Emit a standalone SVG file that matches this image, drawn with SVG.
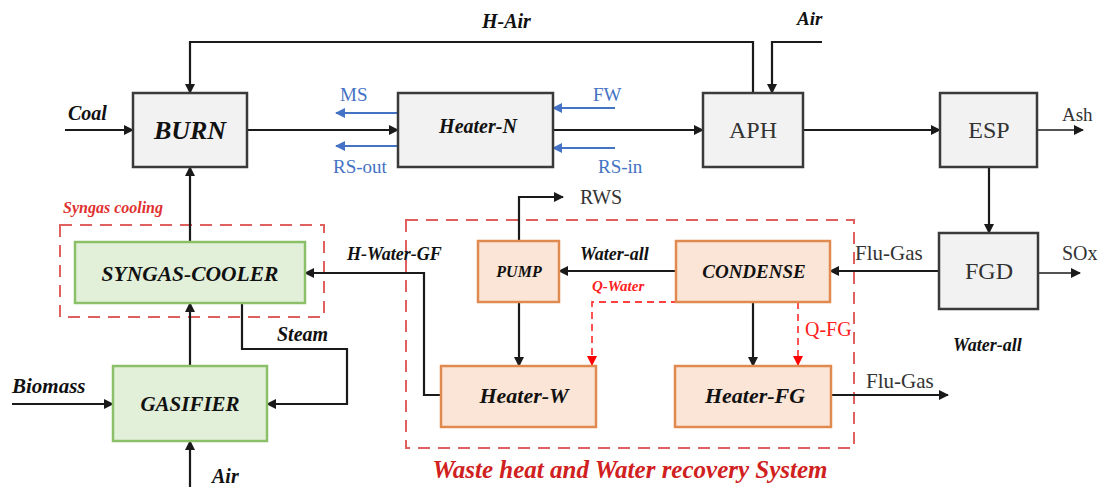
<svg xmlns="http://www.w3.org/2000/svg" width="1104" height="487" viewBox="0 0 1104 487">
<defs>
<marker id="ah" markerWidth="10" markerHeight="10" refX="9" refY="5" orient="auto" markerUnits="userSpaceOnUse"><path d="M0,0 L10,5 L0,10 Z" fill="#1a1a1a"/></marker>
<marker id="ahb" markerWidth="10" markerHeight="10" refX="9" refY="5" orient="auto" markerUnits="userSpaceOnUse"><path d="M0,0 L10,5 L0,10 Z" fill="#4472c4"/></marker>
<marker id="ahr" markerWidth="10" markerHeight="10" refX="9" refY="5" orient="auto" markerUnits="userSpaceOnUse"><path d="M0,0 L10,5 L0,10 Z" fill="#ff0000"/></marker>
</defs>
<style>
.grey{fill:#f2f2f2;stroke:#3a3a3a;stroke-width:2.5}
.green{fill:#e2f0d9;stroke:#8cc068;stroke-width:2.5}
.orange{fill:#fbe5d6;stroke:#e08a50;stroke-width:2.5}
.ln{fill:none;stroke:#1a1a1a;stroke-width:2.2}
.arr{marker-end:url(#ah)}
.bl{fill:none;stroke:#4472c4;stroke-width:2.2;marker-end:url(#ahb)}
.rd{fill:none;stroke:#ff4040;stroke-width:1.8;stroke-dasharray:7,5}
.box{fill:none;stroke:#e06060;stroke-width:2;stroke-dasharray:12,8}
text{font-family:'Liberation Serif','Times New Roman',serif}
.bi{font-weight:bold;font-style:italic;fill:#111}
.rg{fill:#333}
.blt{fill:#4472c4;font-size:19px}
.red{font-weight:bold;font-style:italic;fill:#d02020}
</style>
<g id="groups">
<rect x="60" y="225" width="264" height="92" class="box"/>
<text x="63" y="213" class="red" font-size="16" style="fill:#e03030">Syngas cooling</text>
<rect x="406" y="220" width="448" height="228" class="box"/>
<text x="630" y="478" class="red" font-size="25" text-anchor="middle">Waste heat and Water recovery System</text>
</g>
<g id="connectors">
<path d="M753,93 V42 H190 V93" class="ln arr"/>
<path d="M822,42 H772 V93" class="ln arr"/>
<path d="M65,130 H133" class="ln arr"/>
<path d="M247,130 H398" class="ln arr"/>
<path d="M553,130 H703" class="ln arr"/>
<path d="M803,130 H940" class="ln arr"/>
<path d="M1037,130 H1083" class="ln arr" style="stroke-width:1.5"/>
<path d="M989,167 V233" class="ln arr"/>
<path d="M1038,273 H1080" class="ln arr" style="stroke-width:1.5"/>
<path d="M939,271 H830" class="ln arr"/>
<path d="M398,113 H336" class="bl"/>
<path d="M398,146 H336" class="bl"/>
<path d="M615,108 H553" class="bl"/>
<path d="M615,148 H553" class="bl"/>
<path d="M190,242 V167" class="ln arr"/>
<path d="M190,366 V303" class="ln arr"/>
<path d="M190,487 V441" class="ln arr"/>
<path d="M12,404 H113" class="ln arr"/>
<path d="M242,303 V349 H347 V404 H267" class="ln arr"/>
<path d="M441,395 H424 V273 H305" class="ln arr"/>
<path d="M519,241 V197 H563" class="ln arr"/>
<path d="M676,271 H559" class="ln arr"/>
<path d="M519,302 V366" class="ln arr"/>
<path d="M753,302 V366" class="ln arr"/>
<path d="M831,395 H948" class="ln arr"/>
<path d="M678,302 H592 V365" class="rd" marker-end="url(#ahr)"/>
<path d="M798,302 V365" class="rd" marker-end="url(#ahr)"/>
</g>
<g id="labels">
<text x="482" y="28" class="bi" font-size="20">H-Air</text>
<text x="797" y="25" class="bi" font-size="19">Air</text>
<text x="68" y="120" class="bi" font-size="20">Coal</text>
<text x="340" y="101" class="blt">MS</text>
<text x="333" y="173" class="blt">RS-out</text>
<text x="593" y="101" class="blt">FW</text>
<text x="598" y="173" class="blt">RS-in</text>
<text x="1062" y="121" class="rg" font-size="19">Ash</text>
<text x="855" y="260" class="rg" font-size="21">Flu-Gas</text>
<text x="1062" y="260" class="rg" font-size="20">SOx</text>
<text x="953" y="351" class="bi" font-size="18">Water-all</text>
<text x="580" y="204" class="rg" font-size="20">RWS</text>
<text x="580" y="260" class="bi" font-size="18">Water-all</text>
<text x="592" y="291" class="red" font-size="15" style="fill:#ff2020">Q-Water</text>
<text x="805" y="336" class="rg" font-size="20" style="fill:#ff2020">Q-FG</text>
<text x="866" y="388" class="rg" font-size="21">Flu-Gas</text>
<text x="347" y="260" class="bi" font-size="18">H-Water-GF</text>
<text x="277" y="341" class="bi" font-size="20">Steam</text>
<text x="12" y="393" class="bi" font-size="21">Biomass</text>
<text x="212" y="483" class="bi" font-size="20">Air</text>
</g>
<g id="BURN"><rect x="133" y="93" width="114" height="74" class="grey"/><text x="190" y="139" class="bi" font-size="26" text-anchor="middle">BURN</text></g>
<g id="HeaterN"><rect x="398" y="93" width="155" height="74" class="grey"/><text x="478" y="133" class="bi" font-size="20" text-anchor="middle">Heater-N</text></g>
<g id="APH"><rect x="703" y="93" width="100" height="74" class="grey"/><text x="753" y="138" class="rg" font-size="24" text-anchor="middle">APH</text></g>
<g id="ESP"><rect x="940" y="93" width="97" height="74" class="grey"/><text x="989" y="138" class="rg" font-size="24" text-anchor="middle">ESP</text></g>
<g id="FGD"><rect x="939" y="233" width="99" height="76" class="grey"/><text x="989" y="279" class="rg" font-size="24" text-anchor="middle">FGD</text></g>
<g id="SYNGAS"><rect x="75" y="242" width="230" height="61" class="green"/><text x="190" y="281" class="bi" font-size="21.5" text-anchor="middle">SYNGAS-COOLER</text></g>
<g id="GASIFIER"><rect x="113" y="366" width="154" height="75" class="green"/><text x="190" y="411" class="bi" font-size="21" text-anchor="middle">GASIFIER</text></g>
<g id="PUMP"><rect x="478" y="241" width="81" height="61" class="orange"/><text x="519" y="277" class="bi" font-size="16" text-anchor="middle">PUMP</text></g>
<g id="CONDENSE"><rect x="676" y="241" width="154" height="61" class="orange"/><text x="754" y="278" class="bi" font-size="19" text-anchor="middle">CONDENSE</text></g>
<g id="HeaterW"><rect x="441" y="366" width="155" height="61" class="orange"/><text x="524" y="403" class="bi" font-size="22" text-anchor="middle">Heater-W</text></g>
<g id="HeaterFG"><rect x="675" y="366" width="156" height="61" class="orange"/><text x="755" y="403" class="bi" font-size="22" text-anchor="middle">Heater-FG</text></g>
</svg>
